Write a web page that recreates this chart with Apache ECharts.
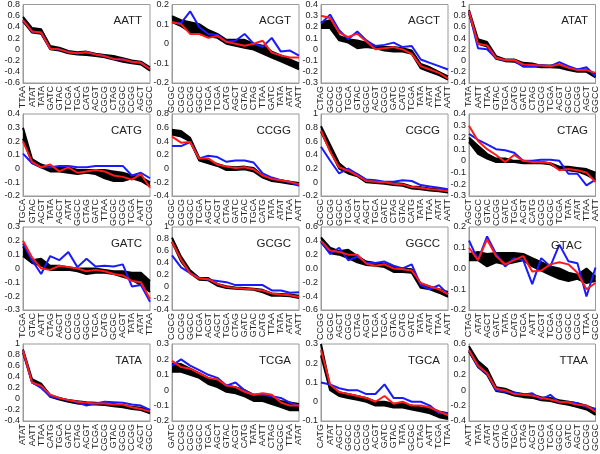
<!DOCTYPE html>
<html><head><meta charset="utf-8">
<script src="https://cdn.jsdelivr.net/npm/echarts@6/dist/echarts.min.js"></script>
<style>html,body{margin:0;padding:0;background:#fff}#c{width:600px;height:454px}</style>
</head><body><div id="c"></div>
<script>
// ---------- DATA ----------
const AATT_cats = ['TTAA','ATAT','TATA','GATC','GTAC','TCGA','TGCA','CATG','ACGT','CGCG','CTAG','GCGC','CCGG','AGCT','GGCC'];
const AATT_lo   = [0.50,0.30,0.28,0.00,-0.02,-0.07,-0.09,-0.10,-0.12,-0.14,-0.18,-0.22,-0.25,-0.27,-0.38];
const AATT_hi   = [0.58,0.38,0.36,0.06,0.03,-0.03,-0.05,-0.04,-0.08,-0.10,-0.12,-0.16,-0.20,-0.22,-0.32];
const AATT_red  = [0.52,0.32,0.30,0.01,0.00,-0.05,-0.07,-0.05,-0.09,-0.12,-0.17,-0.18,-0.22,-0.24,-0.35];
const AATT_blue = [0.52,0.32,0.30,0.01,0.00,-0.05,-0.07,-0.05,-0.09,-0.12,-0.17,-0.18,-0.22,-0.24,-0.35];

const ACGT_cats = ['GCGC','CGCG','CCGG','GGCC','TGCA','TCGA','CATG','AGCT','GTAC','CTAG','TTAA','GATC','TATA','ATAT','AATT'];
const ACGT_lo   = [0.11,0.09,0.06,0.05,0.04,0.03,0.00,-0.01,-0.02,-0.03,-0.05,-0.07,-0.09,-0.11,-0.13];
const ACGT_hi   = [0.14,0.12,0.11,0.10,0.07,0.05,0.02,0.02,0.02,0.00,-0.01,-0.04,-0.06,-0.08,-0.10];
const ACGT_red  = [0.11,0.10,0.05,0.05,0.03,0.04,0.01,0.00,-0.01,0.00,0.015,-0.045,-0.06,-0.07,-0.07];
const ACGT_blue = [0.11,0.105,0.165,0.085,0.05,0.045,0.01,0.015,0.05,0.00,-0.015,0.03,-0.04,-0.035,-0.06];

const AGCT_cats = ['CTAG','GGCC','CCGG','TGCA','GTAC','GCGC','ACGT','CGCG','GATC','CATG','TCGA','TATA','ATAT','TTAA','AATT'];
const AGCT_lo   = [0.19,0.19,0.08,0.06,0.01,0.02,0.01,-0.01,-0.02,-0.02,-0.04,-0.17,-0.20,-0.23,-0.27];
const AGCT_hi   = [0.24,0.26,0.12,0.09,0.08,0.06,0.03,0.02,0.02,0.01,-0.01,-0.13,-0.16,-0.20,-0.24];
const AGCT_red  = [0.30,0.28,0.15,0.11,0.14,0.07,0.00,0.01,0.02,0.00,-0.04,-0.15,-0.18,-0.21,-0.26];
const AGCT_blue = [0.23,0.31,0.17,0.09,0.16,0.08,0.03,0.04,0.06,0.02,0.03,-0.09,-0.12,-0.15,-0.18];

const ATAT_cats = ['TATA','AATT','TTAA','GTAC','TGCA','CATG','GATC','CTAG','CGCG','TCGA','ACGT','GCGC','CCGG','AGCT','GGCC'];
const ATAT_lo   = [0.84,0.30,0.25,0.03,-0.01,-0.02,-0.09,-0.10,-0.12,-0.12,-0.13,-0.17,-0.20,-0.20,-0.30];
const ATAT_hi   = [0.90,0.38,0.33,0.08,0.02,0.02,-0.04,-0.05,-0.09,-0.09,-0.08,-0.14,-0.16,-0.16,-0.24];
const ATAT_red  = [0.88,0.30,0.27,0.05,0.01,0.01,-0.07,-0.08,-0.09,-0.10,-0.07,-0.13,-0.17,-0.17,-0.22];
const ATAT_blue = [0.87,0.22,0.20,0.04,0.00,0.00,-0.11,-0.11,-0.08,-0.10,-0.03,-0.10,-0.16,-0.12,-0.28];

const CATG_cats = ['TGCA','GTAC','ACGT','TATA','AGCT','ATAT','GGCC','CTAG','GATC','TTAA','GCGC','CGCG','TCGA','AATT','CCGG'];
const CATG_lo   = [0.22,0.04,0.01,-0.02,-0.02,-0.03,-0.04,-0.03,-0.04,-0.07,-0.09,-0.09,-0.07,-0.09,-0.13];
const CATG_hi   = [0.30,0.07,0.03,0.01,0.01,0.01,-0.01,-0.01,-0.01,-0.01,-0.02,-0.03,-0.05,-0.06,-0.10];
const CATG_red  = [0.20,0.05,0.01,0.03,-0.02,0.01,-0.03,-0.02,-0.01,-0.02,-0.05,-0.06,-0.08,-0.04,-0.14];
const CATG_blue = [0.11,0.04,0.01,0.01,0.02,0.02,0.01,0.01,0.02,0.02,0.02,0.02,-0.05,-0.03,-0.07];

const CCGG_cats = ['GCGC','CGCG','GGCC','TCGA','AGCT','ACGT','CTAG','GATC','GTAC','TGCA','CATG','TATA','ATAT','TTAA','AATT'];
const CCGG_lo   = [0.50,0.47,0.40,0.12,0.08,0.04,-0.02,-0.02,-0.01,-0.04,-0.13,-0.18,-0.20,-0.22,-0.24];
const CCGG_hi   = [0.57,0.55,0.45,0.16,0.12,0.07,0.03,0.02,0.03,0.01,-0.10,-0.15,-0.17,-0.19,-0.21];
const CCGG_red  = [0.47,0.38,0.39,0.15,0.15,0.06,0.03,0.01,0.02,-0.01,-0.10,-0.15,-0.17,-0.19,-0.23];
const CCGG_blue = [0.33,0.33,0.39,0.15,0.19,0.17,0.10,0.12,0.12,0.09,-0.07,-0.13,-0.17,-0.20,-0.25];

const CGCG_cats = ['GCGC','CCGG','GGCC','TCGA','ACGT','AGCT','TGCA','GATC','CTAG','GTAC','CATG','TATA','TTAA','ATAT','AATT'];
const CGCG_lo   = [0.74,0.47,0.20,0.13,0.09,0.00,-0.01,-0.02,-0.04,-0.05,-0.09,-0.10,-0.12,-0.13,-0.15];
const CGCG_hi   = [0.82,0.55,0.28,0.17,0.12,0.03,0.01,0.00,-0.01,-0.02,-0.06,-0.07,-0.09,-0.10,-0.12];
const CGCG_red  = [0.76,0.45,0.22,0.17,0.10,0.02,0.01,0.00,-0.02,-0.03,-0.07,-0.08,-0.10,-0.11,-0.13];
const CGCG_blue = [0.52,0.32,0.13,0.20,0.12,0.04,0.03,0.01,0.01,0.03,0.02,-0.04,-0.06,-0.08,-0.10];

const CTAG_cats = ['AGCT','GGCC','GTAC','CCGG','GATC','TGCA','ACGT','CATG','CGCG','GCGC','TCGA','TATA','ATAT','TTAA','AATT'];
const CTAG_lo   = [0.16,0.06,0.02,-0.01,-0.01,-0.01,-0.02,-0.02,-0.02,-0.03,-0.07,-0.08,-0.09,-0.12,-0.16];
const CTAG_hi   = [0.20,0.13,0.06,0.02,0.02,0.00,0.00,-0.01,-0.01,-0.02,-0.05,-0.05,-0.06,-0.07,-0.10];
const CTAG_red  = [0.30,0.17,0.10,0.05,-0.01,0.05,0.00,-0.01,-0.01,-0.02,-0.08,-0.07,-0.08,-0.10,-0.18];
const CTAG_blue = [0.23,0.18,0.14,0.10,0.09,0.07,0.00,0.00,0.01,0.01,0.00,-0.11,-0.11,-0.21,-0.16];

const GATC_cats = ['TCGA','GTAC','AATT','CTAG','AGCT','CCGG','CGCG','GGCC','TGCA','CATG','GCGC','ACGT','TATA','ATAT','TTAA'];
const GATC_lo   = [0.09,0.04,0.02,-0.01,-0.01,-0.01,-0.02,-0.04,-0.03,-0.03,-0.04,-0.06,-0.08,-0.12,-0.17];
const GATC_hi   = [0.16,0.06,0.07,0.02,0.02,0.01,0.00,0.00,0.00,-0.01,-0.02,-0.02,-0.03,-0.03,-0.09];
const GATC_red  = [0.20,0.08,0.00,-0.01,0.02,0.01,0.00,-0.02,-0.01,-0.02,-0.04,-0.05,-0.09,-0.10,-0.22];
const GATC_blue = [0.18,0.06,-0.04,0.09,0.06,0.12,0.01,0.07,0.015,0.02,0.015,0.03,-0.13,-0.12,-0.24];

const GCGC_cats = ['CGCG','CCGG','GGCC','TCGA','ACGT','AGCT','TGCA','CTAG','GATC','GTAC','CATG','TTAA','TATA','ATAT','AATT'];
const GCGC_lo   = [0.75,0.42,0.22,0.11,0.10,0.01,-0.03,-0.04,-0.05,-0.06,-0.10,-0.16,-0.16,-0.17,-0.20];
const GCGC_hi   = [0.82,0.50,0.27,0.14,0.14,0.04,0.00,-0.02,-0.03,-0.04,-0.06,-0.12,-0.13,-0.14,-0.16];
const GCGC_red  = [0.75,0.45,0.22,0.13,0.12,0.04,-0.01,-0.03,-0.04,-0.05,-0.07,-0.12,-0.14,-0.15,-0.18];
const GCGC_blue = [0.52,0.32,0.22,0.14,0.11,0.09,0.07,0.02,0.02,0.02,0.02,-0.07,-0.07,-0.11,-0.10];

const GGCC_cats = ['CCGG','GCGC','AGCT','CGCG','CTAG','ACGT','TCGA','TGCA','GTAC','CATG','GATC','TATA','ATAT','TTAA','AATT'];
const GGCC_lo   = [0.38,0.22,0.20,0.15,0.09,0.05,0.04,0.02,-0.05,-0.05,-0.06,-0.28,-0.30,-0.35,-0.41];
const GGCC_hi   = [0.45,0.30,0.25,0.27,0.18,0.10,0.08,0.07,0.02,0.00,-0.01,-0.22,-0.26,-0.30,-0.34];
const GGCC_red  = [0.40,0.26,0.24,0.20,0.20,0.07,0.04,0.06,0.00,-0.01,-0.03,-0.21,-0.26,-0.30,-0.37];
const GGCC_blue = [0.40,0.21,0.30,0.12,0.17,0.08,0.08,0.10,0.04,0.00,0.06,-0.24,-0.30,-0.24,-0.37];

const GTAC_cats = ['CTAG','ATAT','AGCT','GATC','TATA','CATG','TGCA','AATT','ACGT','TCGA','CCGG','GGCC','CGCG','TTAA','GCGC'];
const GTAC_lo   = [0.04,0.04,0.01,0.03,0.02,0.03,0.04,0.01,-0.01,-0.03,-0.05,-0.06,-0.05,-0.07,-0.06];
const GTAC_hi   = [0.07,0.08,0.07,0.075,0.075,0.075,0.07,0.05,0.03,0.01,0.00,-0.02,-0.03,0.00,-0.04];
const GTAC_red  = [0.10,0.04,0.14,0.06,0.02,0.04,0.06,-0.015,-0.01,0.02,0.03,0.02,-0.02,-0.10,-0.07];
const GTAC_blue = [0.135,0.04,0.155,0.07,0.01,0.05,0.04,-0.075,0.05,0.01,0.115,0.035,0.025,-0.135,0.005];

const TATA_cats = ['ATAT','AATT','TTAA','CATG','TGCA','GATC','CTAG','ACGT','TCGA','CGCG','GTAC','GCGC','CCGG','AGCT','GGCC'];
const TATA_lo   = [0.84,0.30,0.22,0.04,-0.01,-0.05,-0.08,-0.10,-0.10,-0.11,-0.13,-0.15,-0.18,-0.20,-0.26];
const TATA_hi   = [0.90,0.36,0.28,0.07,0.02,-0.02,-0.04,-0.06,-0.07,-0.08,-0.09,-0.12,-0.14,-0.16,-0.20];
const TATA_red  = [0.88,0.30,0.24,0.08,0.02,-0.02,-0.05,-0.07,-0.08,-0.08,-0.10,-0.10,-0.15,-0.18,-0.23];
const TATA_blue = [0.88,0.30,0.20,0.05,0.01,-0.02,-0.06,-0.12,-0.08,-0.05,-0.06,-0.07,-0.10,-0.12,-0.20];

const TCGA_cats = ['GATC','CCGG','CGCG','GGCC','TGCA','AGCT','GTAC','ACGT','CATG','TATA','AATT','CTAG','GCGC','TTAA','ATAT'];
const TCGA_lo   = [0.12,0.12,0.10,0.08,0.04,0.02,-0.01,-0.02,-0.04,-0.07,-0.07,-0.09,-0.11,-0.13,-0.13];
const TCGA_hi   = [0.17,0.17,0.14,0.11,0.08,0.06,0.03,0.02,0.00,-0.03,-0.03,-0.05,-0.07,-0.08,-0.09];
const TCGA_red  = [0.19,0.15,0.14,0.11,0.08,0.07,0.03,0.02,-0.01,-0.03,-0.02,-0.03,-0.08,-0.10,-0.10];
const TCGA_blue = [0.16,0.20,0.16,0.13,0.10,0.08,0.03,0.05,0.00,-0.03,-0.03,-0.04,-0.05,-0.08,-0.10];

const TGCA_cats = ['CATG','ATAT','AGCT','GGCC','CCGG','CGCG','ACGT','GATC','GTAC','TATA','GCGC','CTAG','AATT','TCGA','TTAA'];
const TGCA_lo   = [0.24,0.06,0.03,0.02,0.01,0.00,-0.02,-0.02,-0.03,-0.03,-0.04,-0.05,-0.06,-0.08,-0.09];
const TGCA_hi   = [0.30,0.08,0.05,0.04,0.03,0.02,0.00,0.00,-0.01,-0.01,-0.02,-0.03,-0.03,-0.05,-0.06];
const TGCA_red  = [0.27,0.09,0.05,0.04,0.03,0.02,0.00,0.03,-0.01,0.00,-0.02,-0.02,-0.03,-0.05,-0.07];
const TGCA_blue = [0.10,0.09,0.07,0.06,0.06,0.04,0.04,0.09,0.02,0.02,0.00,0.00,-0.02,-0.06,-0.06];

const TTAA_cats = ['AATT','TATA','ATAT','CATG','GTAC','TGCA','CTAG','ACGT','CGCG','TCGA','GGCC','GATC','AGCT','CCGG','GCGC'];
const TTAA_lo   = [0.50,0.30,0.20,-0.01,-0.03,-0.07,-0.09,-0.10,-0.13,-0.14,-0.17,-0.19,-0.22,-0.25,-0.32];
const TTAA_hi   = [0.57,0.38,0.28,0.04,0.02,-0.03,-0.05,-0.06,-0.09,-0.10,-0.13,-0.15,-0.17,-0.20,-0.25];
const TTAA_red  = [0.52,0.32,0.22,0.02,0.00,-0.05,-0.06,-0.07,-0.10,-0.12,-0.15,-0.16,-0.19,-0.20,-0.28];
const TTAA_blue = [0.52,0.30,0.22,0.00,-0.02,-0.03,-0.06,-0.04,-0.12,-0.06,-0.16,-0.15,-0.17,-0.22,-0.24];

// ---------- PANELS ----------
const panels = [
  {name:'AATT', cats:AATT_cats, lo:AATT_lo, hi:AATT_hi, red:AATT_red, blue:AATT_blue, min:-0.6, max:0.8, step:0.2},
  {name:'ACGT', cats:ACGT_cats, lo:ACGT_lo, hi:ACGT_hi, red:ACGT_red, blue:ACGT_blue, min:-0.2, max:0.2, step:0.1},
  {name:'AGCT', cats:AGCT_cats, lo:AGCT_lo, hi:AGCT_hi, red:AGCT_red, blue:AGCT_blue, min:-0.3, max:0.4, step:0.1},
  {name:'ATAT', cats:ATAT_cats, lo:ATAT_lo, hi:ATAT_hi, red:ATAT_red, blue:ATAT_blue, min:-0.4, max:1.0, step:0.2},
  {name:'CATG', cats:CATG_cats, lo:CATG_lo, hi:CATG_hi, red:CATG_red, blue:CATG_blue, min:-0.2, max:0.4, step:0.1},
  {name:'CCGG', cats:CCGG_cats, lo:CCGG_lo, hi:CCGG_hi, red:CCGG_red, blue:CCGG_blue, min:-0.4, max:0.8, step:0.2},
  {name:'CGCG', cats:CGCG_cats, lo:CGCG_lo, hi:CGCG_hi, red:CGCG_red, blue:CGCG_blue, min:-0.2, max:1.0, step:0.2},
  {name:'CTAG', cats:CTAG_cats, lo:CTAG_lo, hi:CTAG_hi, red:CTAG_red, blue:CTAG_blue, min:-0.3, max:0.4, step:0.1},
  {name:'GATC', cats:GATC_cats, lo:GATC_lo, hi:GATC_hi, red:GATC_red, blue:GATC_blue, min:-0.3, max:0.3, step:0.1},
  {name:'GCGC', cats:GCGC_cats, lo:GCGC_lo, hi:GCGC_hi, red:GCGC_red, blue:GCGC_blue, min:-0.4, max:1.0, step:0.2},
  {name:'GGCC', cats:GGCC_cats, lo:GGCC_lo, hi:GGCC_hi, red:GGCC_red, blue:GGCC_blue, min:-0.6, max:0.6, step:0.2, fixed:true},
  {name:'GTAC', cats:GTAC_cats, lo:GTAC_lo, hi:GTAC_hi, red:GTAC_red, blue:GTAC_blue, min:-0.2, max:0.2, step:0.1, fixed:true, titleInset:9},
  {name:'TATA', cats:TATA_cats, lo:TATA_lo, hi:TATA_hi, red:TATA_red, blue:TATA_blue, min:-0.4, max:1.0, step:0.2},
  {name:'TCGA', cats:TCGA_cats, lo:TCGA_lo, hi:TCGA_hi, red:TCGA_red, blue:TCGA_blue, min:-0.2, max:0.3, step:0.1},
  {name:'TGCA', cats:TGCA_cats, lo:TGCA_lo, hi:TGCA_hi, red:TGCA_red, blue:TGCA_blue, min:-0.1, max:0.3, step:0.1},
  {name:'TTAA', cats:TTAA_cats, lo:TTAA_lo, hi:TTAA_hi, red:TTAA_red, blue:TTAA_blue, min:-0.4, max:0.6, step:0.2}
];

// ---------- LAYOUT ----------
const colLeft = [23, 172, 321, 469];
const colW = 127;
const rowTop = [4, 114, 227, 344];
const rowH = [79, 82, 83, 82];
const FONT = 'Liberation Sans, Arial, sans-serif';

const option = {animation:false, backgroundColor:'#fff', title:[], grid:[], xAxis:[], yAxis:[], series:[]};
panels.forEach((p, i) => {
  const r = Math.floor(i/4), c = i%4;
  option.grid.push({left:colLeft[c], top:rowTop[r], width:colW, height:rowH[r],
    show:true, borderColor:'#9a9a9a', borderWidth:1, containLabel:false});
  option.xAxis.push({gridIndex:i, type:'category', data:p.cats, boundaryGap:false,
    axisLine:{onZero:false, lineStyle:{color:'#9a9a9a'}}, axisTick:{show:false}, splitLine:{show:false},
    axisLabel:{rotate:90, interval:0, fontSize:9, color:'#222', margin:3, fontFamily:FONT}});
  const dec = p.fixed;
  option.yAxis.push({gridIndex:i, type:'value', min:p.min, max:p.max, interval:p.step,
    axisLine:{show:true, lineStyle:{color:'#9a9a9a'}}, axisTick:{show:false}, splitLine:{show:false},
    axisLabel:{fontSize:9, color:'#222', margin:3, fontFamily:FONT,
      formatter: v => { const x = Math.round(v*10)/10; return dec ? x.toFixed(1) : String(x); }}});
  option.title.push({text:p.name, right: 600 - (colLeft[c]+colW) + (p.titleInset || 3), top: rowTop[r] + (p.titleInset ? 8 : 6),
    textStyle:{fontSize:11.5, fontWeight:'normal', color:'#222', fontFamily:FONT}});
  const diff = p.hi.map((h, k) => +(h - p.lo[k]).toFixed(4));
  const common = {xAxisIndex:i, yAxisIndex:i, type:'line', symbol:'none', silent:true};
  option.series.push(Object.assign({}, common, {name:p.name+'_lo', data:p.lo, stack:'band'+i, stackStrategy:'all',
    lineStyle:{color:'#000', width:2}}));
  option.series.push(Object.assign({}, common, {name:p.name+'_hi', data:diff, stack:'band'+i, stackStrategy:'all',
    lineStyle:{color:'#000', width:2}, areaStyle:{color:'#000', opacity:1}}));
  option.series.push(Object.assign({}, common, {name:p.name+'_blue', data:p.blue, lineStyle:{color:'#1a1aff', width:2}}));
  option.series.push(Object.assign({}, common, {name:p.name+'_red', data:p.red, lineStyle:{color:'#ff1a1a', width:2}}));
});

const chart = echarts.init(document.getElementById('c'), null, {renderer:'canvas'});
chart.setOption(option);
</script>
</body></html>
